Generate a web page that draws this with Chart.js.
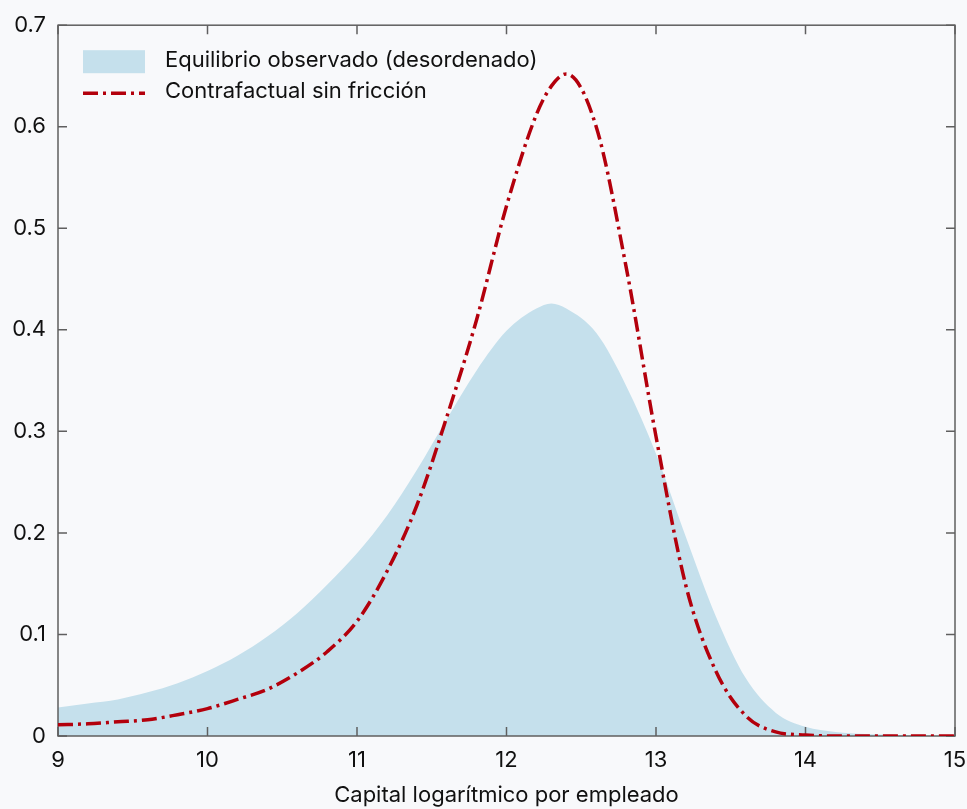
<!DOCTYPE html>
<html>
<head>
<meta charset="utf-8">
<script src="https://cdn.jsdelivr.net/npm/chart.js@4"></script>
<style>
  html, body { margin: 0; padding: 0; background: #f8f9fb; }
  #wrap { width: 967px; height: 809px; }
</style>
</head>
<body>
<div id="wrap"><canvas id="density"></canvas></div>
<script>
// log capital per employee grid (step 0.2, plus the observed peak)
const xs = [9.0, 9.2, 9.4, 9.6, 9.8, 10.0, 10.2, 10.4, 10.6, 10.8, 11.0, 11.2, 11.4, 11.6, 11.8,
    12.0, 12.2, 12.3, 12.4, 12.6, 12.8, 13.0, 13.2, 13.4, 13.6, 13.8, 14.0, 14.2, 14.4, 14.6, 14.8, 15.0];
const observed = [0.028, 0.032, 0.036, 0.043, 0.052, 0.064, 0.079, 0.098, 0.121, 0.149, 0.180, 0.217, 0.262, 0.312, 0.360,
    0.399, 0.421, 0.426, 0.421, 0.397, 0.345, 0.278, 0.196, 0.118, 0.057, 0.023, 0.009, 0.004, 0.002, 0.001, 0, 0];
const frictionless = [0.011, 0.012, 0.014, 0.016, 0.021, 0.027, 0.036, 0.046, 0.062, 0.083, 0.113, 0.162, 0.227, 0.314, 0.410,
    0.522, 0.612, 0.640, 0.652, 0.600, 0.462, 0.295, 0.148, 0.064, 0.020, 0.004, 0.001, 0, 0, 0, 0, 0];
const xTicks = [9, 10, 11, 12, 13, 14, 15];
const yTicks = [0, 0.1, 0.2, 0.3, 0.4, 0.5, 0.6, 0.7];

const labelObserved = "Equilibrio observado (desordenado)";
const labelFrictionless = "Contrafactual sin fricción";
const xTitle = "Capital logarítmico por empleado";

const blue = "rgb(197,224,236)";
const red = "#b3000c";
const frameColor = "#5f5f5f";
const fontFamily = "Inter, 'Noto Sans', sans-serif";
const dashDot = [15, 5, 3, 5];

const toPoints = (vals) => vals.map((v, i) => ({ x: xs[i], y: v }));

// frame + inward ticks, drawn over the fill but under the red curve
const framePlugin = {
    id: "frame",
    afterDatasetDraw(chart, args) {
        if (args.index !== 1) return
        const ctx = chart.ctx
        const a = chart.chartArea
        const sx = chart.scales.x
        const sy = chart.scales.y
        const len = 9
        ctx.save()
        ctx.strokeStyle = frameColor
        ctx.lineWidth = 1.5
        ctx.strokeRect(a.left, a.top, a.right - a.left, a.bottom - a.top)
        ctx.beginPath()
        xTicks.forEach(t => {
            const px = sx.getPixelForValue(t)
            ctx.moveTo(px, a.bottom); ctx.lineTo(px, a.bottom - len)
            ctx.moveTo(px, a.top); ctx.lineTo(px, a.top + len)
        })
        yTicks.forEach(t => {
            const py = sy.getPixelForValue(t)
            ctx.moveTo(a.left, py); ctx.lineTo(a.left + len, py)
            ctx.moveTo(a.right, py); ctx.lineTo(a.right - len, py)
        })
        ctx.stroke()
        ctx.restore()
    }
}

// legend inside the plot, top left
const legendPlugin = {
    id: "innerLegend",
    afterDatasetsDraw(chart) {
        const ctx = chart.ctx
        const a = chart.chartArea
        const x0 = a.left + 25
        const y0 = a.top + 25
        ctx.save()
        ctx.fillStyle = blue
        ctx.fillRect(x0, y0, 62, 23)
        ctx.strokeStyle = red
        ctx.lineWidth = 3.5
        ctx.setLineDash(dashDot)
        ctx.beginPath()
        ctx.moveTo(x0, y0 + 43)
        ctx.lineTo(x0 + 62, y0 + 43)
        ctx.stroke()
        ctx.setLineDash([])
        ctx.fillStyle = "#111"
        ctx.font = "22px " + fontFamily
        ctx.textBaseline = "middle"
        ctx.fillText(chart.data.datasets[1].label, x0 + 82, y0 + 10)
        ctx.fillText(chart.data.datasets[0].label, x0 + 82, y0 + 41)
        ctx.restore()
    }
}

const ctx = document.getElementById("density").getContext("2d");

new Chart(ctx, {
    type: "line",
    data: {
        datasets: [{
            label: labelFrictionless,
            data: toPoints(frictionless),
            borderColor: red,
            borderWidth: 3.5,
            borderDash: dashDot,
            pointRadius: 0,
            fill: false,
            cubicInterpolationMode: "monotone",
            order: 0,
        }, {
            label: labelObserved,
            data: toPoints(observed),
            borderWidth: 0,
            borderColor: blue,
            backgroundColor: blue,
            pointRadius: 0,
            fill: "origin",
            cubicInterpolationMode: "monotone",
            order: 1,
        }],
    },
    options: {
        responsive: true,
        maintainAspectRatio: false,
        animation: false,
        layout: {
            padding: { left: 13, right: 0, top: 19, bottom: 0 },
        },
        plugins: {
            legend: { display: false },
            tooltip: { enabled: false },
        },
        scales: {
            x: {
                type: "linear",
                min: 9,
                max: 15,
                afterBuildTicks: (axis) => { axis.ticks = xTicks.map(v => ({ value: v })) },
                afterFit: (axis) => {
                    axis.height = 73
                    axis.paddingRight = 12
                    axis.paddingLeft = 0
                },
                grid: { display: false, drawTicks: false },
                border: { display: false },
                ticks: {
                    padding: 11,
                    color: "#111",
                    font: { size: 22, family: fontFamily },
                    maxRotation: 0,
                },
                title: {
                    display: true,
                    text: xTitle,
                    color: "#111",
                    font: { size: 22, family: fontFamily },
                    padding: { top: 10, bottom: 0 },
                },
            },
            y: {
                min: 0,
                max: 0.7,
                afterBuildTicks: (axis) => { axis.ticks = yTicks.map(v => ({ value: v })) },
                afterFit: (axis) => { axis.width = 45 },
                grid: { display: false, drawTicks: false },
                border: { display: false },
                ticks: {
                    padding: 12,
                    color: "#111",
                    font: { size: 22, family: fontFamily },
                    callback: (v) => String(Math.round(v * 10) / 10),
                },
            },
        },
    },
    plugins: [framePlugin, legendPlugin],
});
</script>
</body>
</html>
